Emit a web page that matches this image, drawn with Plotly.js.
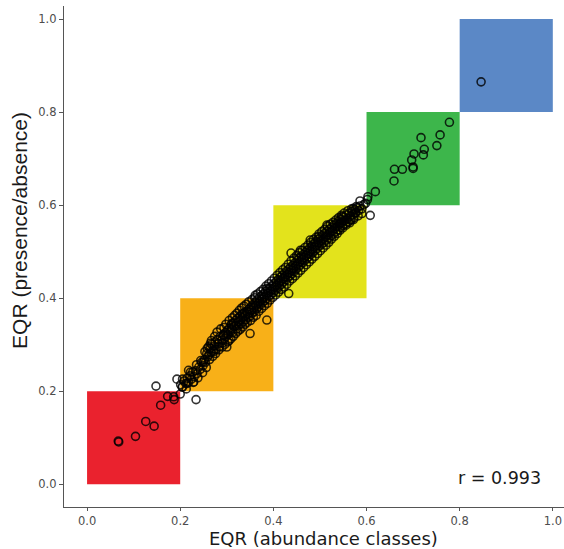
<!DOCTYPE html>
<html>
<head>
<meta charset="utf-8">
<script src="https://cdn.plot.ly/plotly-3.0.1.min.js"></script>
<style>html,body{margin:0;padding:0;background:#fff;}#chart{width:564px;height:549px;}</style>
</head>
<body>
<div id="chart"></div>
<script>
// Class boundaries and colours of the quality classes
const classBounds = [0.0, 0.2, 0.4, 0.6, 0.8, 1.0];
const classColors = ["#EA222E", "#F8B018", "#E3E31C", "#3DB64B", "#5B88C6"];

// EQR (abundance classes)
const eqrAbundance = [
  0.067,0.068,0.104,0.126,0.144,0.158,0.173,0.187,0.148,0.193,0.200,0.234,0.186,0.204,0.215,0.229,0.218,
  0.201,0.205,0.208,0.212,0.215,0.218,0.221,0.224,0.227,0.230,0.233,0.236,0.240,0.243,0.246,0.249,
  0.252,0.254,0.257,0.259,0.262,0.264,0.266,0.268,0.271,0.273,0.275,0.277,0.280,0.282,0.284,0.286,0.289,0.291,0.293,0.295,0.297,0.299,
  0.301,0.303,0.305,0.306,0.308,0.310,0.311,0.313,0.315,0.316,0.318,0.320,0.321,0.323,0.325,0.326,0.328,0.330,0.331,0.333,0.335,0.336,0.338,0.340,0.341,0.343,0.345,0.346,0.348,0.349,
  0.350,0.352,0.353,0.355,0.356,0.358,0.359,0.361,0.362,0.364,0.365,0.367,0.368,0.370,0.371,0.373,0.374,0.376,0.377,0.379,0.380,0.382,0.383,0.385,0.386,0.388,0.389,0.391,0.392,0.394,0.395,0.397,0.398,
  0.361,0.386,0.386,0.350,0.335,0.311,0.300,0.293,0.272,0.258,0.265,0.250,
  0.400,0.401,0.403,0.404,0.406,0.407,0.409,0.410,0.412,0.413,0.415,0.416,0.418,0.419,0.421,0.422,0.424,0.425,0.427,0.428,0.430,0.431,0.433,0.434,0.436,0.437,0.439,0.440,0.442,0.443,0.445,0.446,0.448,0.449,
  0.451,0.452,0.454,0.455,0.457,0.458,0.460,0.461,0.463,0.464,0.466,0.467,0.469,0.470,0.472,0.473,0.475,0.476,0.478,0.479,0.481,0.482,0.484,0.485,0.487,0.488,0.490,0.491,0.493,0.494,0.496,0.497,0.499,
  0.500,0.502,0.504,0.505,0.507,0.509,0.510,0.512,0.514,0.515,0.517,0.519,0.520,0.522,0.524,0.525,0.527,0.529,0.530,0.532,0.534,0.535,0.537,0.539,0.540,0.542,0.544,0.545,0.547,0.549,
  0.551,0.553,0.555,0.557,0.559,0.561,0.563,0.565,0.567,0.569,0.571,0.573,0.575,0.577,0.580,0.583,0.586,0.590,0.594,0.598,
  0.438,0.433,0.479,0.515,0.543,0.547,0.565,0.576,0.608,0.590,0.572,0.586,0.603,0.497,0.458,
  0.602,0.619,0.659,0.660,0.677,0.700,0.700,0.697,0.702,0.722,0.724,0.717,0.751,0.758,0.778,
  0.846,
  0.205,0.213,0.222,0.228,0.235,0.238,0.244,0.248,0.253,0.256,
  0.261,0.263,0.267,0.270,0.274,0.276,0.279,0.283,0.287,0.290,
  0.294,0.296,0.298,0.302,0.305,0.309,0.312,0.314,0.317,0.319,
  0.322,0.324,0.327,0.329,0.332,0.334,0.337,0.339,0.342,0.344,
  0.347,0.351,0.354,0.357,0.360,0.363,0.366,0.369,0.372,0.375,
  0.378,0.381,0.384,0.387,0.390,0.393,0.396,0.399,0.402,0.405,
  0.408,0.411,0.414,0.417,0.420,0.423,0.426,0.429,0.432,0.435,
  0.438,0.441,0.444,0.447,0.450,0.453,0.456,0.459,0.462,0.465,
  0.468,0.471,0.474,0.477,0.480,0.483,0.486,0.489,0.492,0.495,
  0.498,0.501,0.504,0.507,0.510,0.513,0.516,0.519,0.522,0.525,
  0.528,0.531,0.534,0.537,0.540,0.543,0.546,0.549,0.552,0.556,
  0.560,0.564,0.568,0.572,0.578,0.582
];

// EQR (presence/absence)
const eqrPresence = [
  0.093,0.091,0.103,0.135,0.125,0.170,0.189,0.182,0.211,0.226,0.194,0.182,0.188,0.209,0.217,0.220,0.245,
  0.214,0.209,0.222,0.217,0.228,0.219,0.233,0.226,0.241,0.231,0.244,0.238,0.252,0.247,0.262,0.255,
  0.268,0.262,0.281,0.274,0.279,0.292,0.283,0.301,0.288,0.297,0.306,0.290,0.311,0.302,0.296,0.318,0.309,0.304,0.322,0.313,0.326,0.318,
  0.331,0.322,0.309,0.336,0.328,0.343,0.333,0.326,0.347,0.339,0.352,0.341,0.334,0.356,0.349,0.342,0.361,0.353,0.345,0.366,0.358,0.350,0.369,0.362,0.354,0.372,0.366,0.359,0.377,0.370,
  0.361,0.381,0.374,0.368,0.386,0.379,0.371,0.391,0.384,0.377,0.396,0.389,0.382,0.401,0.393,0.386,0.405,0.398,0.391,0.409,0.402,0.395,0.414,0.407,0.399,0.418,0.411,0.404,0.422,0.415,0.408,0.426,0.419,
  0.406,0.421,0.353,0.324,0.367,0.346,0.295,0.320,0.285,0.292,0.303,0.263,
  0.412,0.431,0.424,0.417,0.436,0.428,0.421,0.440,0.433,0.426,0.445,0.437,0.430,0.449,0.442,0.435,0.454,0.446,0.439,0.458,0.451,0.444,0.462,0.455,0.448,0.467,0.460,0.453,0.471,0.464,0.457,0.476,0.469,0.462,
  0.481,0.474,0.467,0.486,0.478,0.471,0.490,0.483,0.476,0.494,0.487,0.480,0.499,0.492,0.485,0.503,0.496,0.489,0.508,0.501,0.494,0.512,0.505,0.498,0.517,0.510,0.503,0.521,0.514,0.507,0.526,0.519,0.512,
  0.530,0.523,0.516,0.535,0.527,0.520,0.539,0.532,0.525,0.544,0.536,0.529,0.548,0.541,0.534,0.552,0.545,0.538,0.557,0.550,0.543,0.561,0.554,0.547,0.566,0.559,0.552,0.570,0.563,0.556,
  0.575,0.567,0.560,0.579,0.571,0.564,0.583,0.576,0.568,0.587,0.580,0.573,0.590,0.584,0.595,0.588,0.598,0.592,0.601,0.604,
  0.497,0.410,0.525,0.557,0.561,0.575,0.568,0.583,0.578,0.582,0.593,0.609,0.618,0.533,0.503,
  0.612,0.629,0.652,0.677,0.677,0.682,0.679,0.697,0.710,0.708,0.720,0.745,0.728,0.751,0.778,
  0.865,
  0.226,0.205,0.241,0.219,0.257,0.229,0.266,0.240,0.285,0.251,
  0.296,0.268,0.309,0.275,0.318,0.281,0.327,0.289,0.334,0.295,
  0.337,0.301,0.344,0.306,0.352,0.313,0.358,0.318,0.363,0.324,
  0.368,0.329,0.374,0.333,0.379,0.338,0.383,0.344,0.387,0.348,
  0.392,0.352,0.397,0.359,0.401,0.363,0.409,0.372,0.414,0.378,
  0.419,0.384,0.426,0.389,0.431,0.396,0.437,0.402,0.443,0.407,
  0.449,0.413,0.455,0.419,0.461,0.424,0.466,0.430,0.473,0.437,
  0.480,0.442,0.486,0.448,0.492,0.454,0.498,0.460,0.503,0.466,
  0.509,0.472,0.514,0.478,0.520,0.484,0.526,0.490,0.531,0.496,
  0.538,0.502,0.543,0.508,0.548,0.514,0.554,0.520,0.559,0.527,
  0.563,0.533,0.568,0.539,0.573,0.546,0.578,0.551,0.583,0.557,
  0.588,0.562,0.592,0.569,0.597,0.577
];

const tickVals = [0.0, 0.2, 0.4, 0.6, 0.8, 1.0];
const tickText = ["0.0", "0.2", "0.4", "0.6", "0.8", "1.0"];
const xTitle = "EQR (abundance classes)";
const yTitle = "EQR (presence/absence)";
const corrLabel = "r = 0.993";

const shapes = classColors.map((c, i) => ({
  type: "rect", xref: "x", yref: "y", layer: "below",
  x0: classBounds[i], x1: classBounds[i + 1],
  y0: classBounds[i], y1: classBounds[i + 1],
  fillcolor: c, line: {width: 0}
}));

const trace = {
  type: "scatter", mode: "markers",
  x: eqrAbundance, y: eqrPresence,
  marker: {symbol: "circle-open", size: 8, color: "rgba(0,0,0,0.8)", line: {width: 1.6}},
  hoverinfo: "skip", showlegend: false
};

const axisCommon = {
  showgrid: false, zeroline: false, showline: true, linecolor: "#555", linewidth: 1.2,
  ticks: "outside", ticklen: 4, tickwidth: 1, tickcolor: "#555",
  tickvals: tickVals, ticktext: tickText,
  tickfont: {family: "DejaVu Sans, sans-serif", size: 11.5, color: "#4d4d4d"},
  automargin: false
};

const layout = {
  width: 564, height: 549,
  margin: {l: 64, r: 0, t: 6, b: 42},
  paper_bgcolor: "#fff", plot_bgcolor: "#fff",
  showlegend: false,
  xaxis: Object.assign({}, axisCommon, {range: [-0.0495, 1.024], ticklen: 3}),
  yaxis: Object.assign({}, axisCommon, {range: [-0.0488, 1.028]}),
  shapes: shapes,
  annotations: [
    {
      xref: "x", yref: "y", x: 0.885, y: 0.0135, text: corrLabel, showarrow: false,
      xanchor: "center", yanchor: "middle",
      font: {family: "DejaVu Sans, sans-serif", size: 17.5, color: "#1a1a1a"}
    },
    {
      xref: "paper", yref: "paper", x: 0.518, y: -0.062, text: xTitle, showarrow: false,
      xanchor: "center", yanchor: "middle", borderpad: 0,
      font: {family: "DejaVu Sans, sans-serif", size: 18, color: "#1a1a1a"}
    },
    {
      xref: "paper", yref: "paper", x: -0.088, y: 0.551, text: yTitle, showarrow: false,
      textangle: -90, xanchor: "center", yanchor: "middle",
      font: {family: "Liberation Sans, Arial, sans-serif", size: 21, color: "#1a1a1a"}
    }
  ]
};

Plotly.newPlot("chart", [trace], layout, {displayModeBar: false, staticPlot: true});
</script>
</body>
</html>
